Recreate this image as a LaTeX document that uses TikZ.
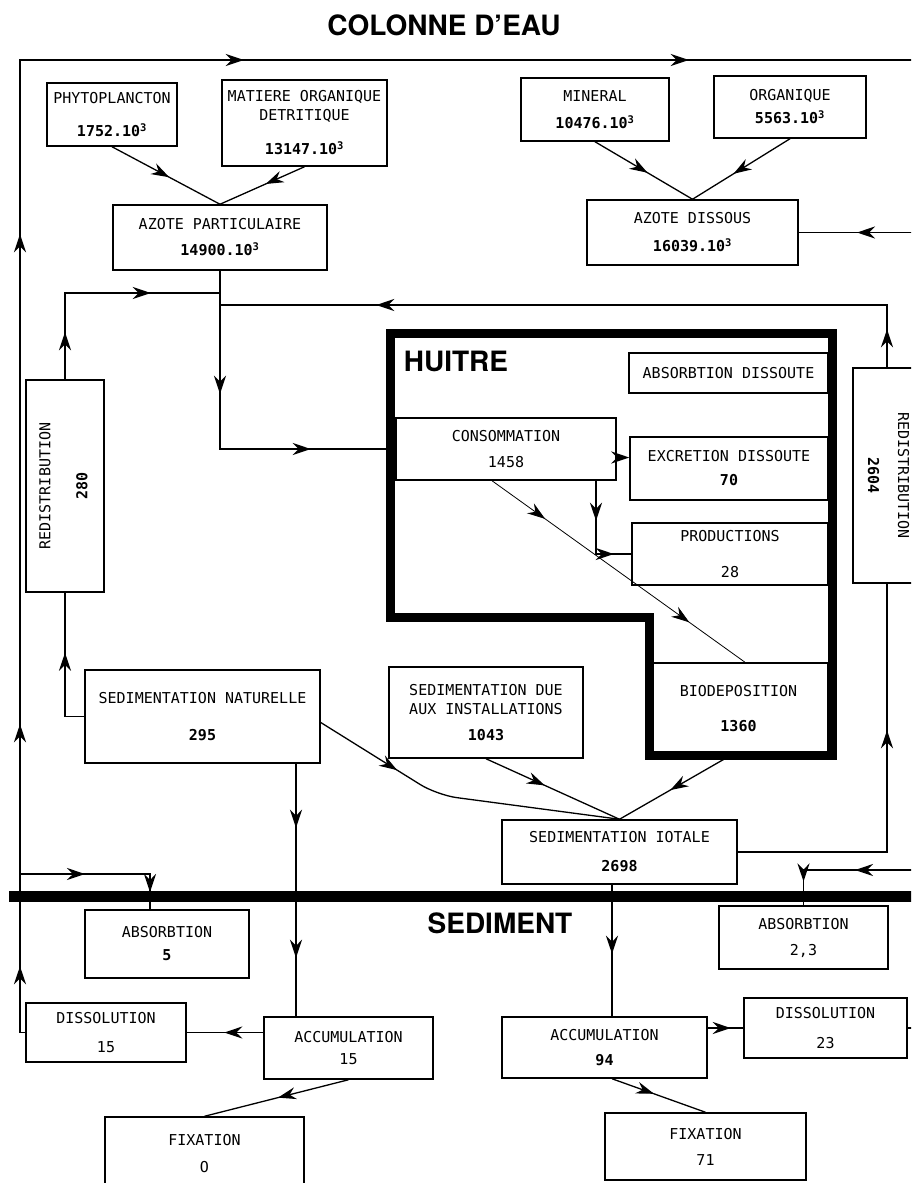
\documentclass[tikz,border=0pt]{standalone}
\usepackage{fontspec}
\usepackage{graphicx}
\setmonofont{DejaVu Sans Mono}
\setsansfont{TeX Gyre Heros}
\usetikzlibrary{arrows.meta,decorations.markings}
\tikzset{
  >={Stealth[length=18pt,width=12pt,inset=6pt]},
  compart/.style={draw,line width=1.5pt,inner sep=0pt,align=center,font=\ttfamily\fontsize{15}{19}\selectfont},
  flow/.style={postaction={decorate,decoration={markings,mark=at position #1 with {\arrow{>}}}}},
  flow/.default=0.5,
  title/.style={font=\sffamily\bfseries\fontsize{28}{30}\selectfont},
}
\begin{document}
\begin{tikzpicture}[x=1pt,y=-1pt,line width=1.3pt]
\useasboundingbox (0,0) rectangle (911,1183);
\clip (0,0) rectangle (911,1183);
\node[title] (colonne) at (444,25) {COLONNE D’EAU};
\node[title] (huitre) at (456,361) {HUITRE};
\node[title] (sediment) at (500,923) {SEDIMENT};
\node[compart,minimum width=130pt,minimum height=63pt] (phyto) at (112,114.5) {PHYTOPLANCTON\\[14pt]\bfseries 1752.10\textsuperscript{3}};
\node[compart,minimum width=165pt,minimum height=86pt] (detritus) at (304.5,123) {MATIERE ORGANIQUE\\DETRITIQUE\\[15pt]\bfseries 13147.10\textsuperscript{3}};
\node[compart,minimum width=214pt,minimum height=65pt] (azpart) at (220,237.5) {AZOTE PARTICULAIRE\\[7pt]\bfseries 14900.10\textsuperscript{3}};
\node[compart,minimum width=148pt,minimum height=63pt] (mineral) at (595,109.5) {MINERAL\\[8pt]\bfseries 10476.10\textsuperscript{3}};
\node[compart,minimum width=152pt,minimum height=62pt] (organ) at (790,107) {ORGANIQUE\\[4pt]\bfseries 5563.10\textsuperscript{3}};
\node[compart,minimum width=211pt,minimum height=65pt] (azdiss) at (692.5,232.5) {AZOTE DISSOUS\\[9pt]\bfseries 16039.10\textsuperscript{3}};
\node[compart,minimum width=199pt,minimum height=40pt] (absdiss) at (728.5,373) {ABSORBTION DISSOUTE};
\node[compart,minimum width=220pt,minimum height=62pt] (conso) at (506,449) {CONSOMMATION\\[7pt]1458};
\node[compart,minimum width=198pt,minimum height=63pt] (excr) at (729,468.5) {EXCRETION DISSOUTE\\[5pt]\bfseries 70};
\node[compart,minimum width=196pt,minimum height=62pt] (prod) at (730,554) {PRODUCTIONS\\[17pt]28};
\node[compart,minimum width=179pt,minimum height=92pt] (biodep) at (738.5,709) {BIODEPOSITION\\[16pt]\bfseries 1360};
\node[compart,minimum width=78pt,minimum height=212pt] (redistA) at (65,486) {\rotatebox{90}{\begin{tabular}{@{}c@{}}REDISTRIBUTION\\[18pt]\bfseries 280\end{tabular}}};
\node[compart,minimum width=68pt,minimum height=215pt] (redistB) at (887,475.5) {\rotatebox{-90}{\begin{tabular}{@{}c@{}}REDISTRIBUTION\\[11pt]\bfseries 2604\end{tabular}}};
\node[compart,minimum width=235pt,minimum height=93pt] (sednat) at (202.5,716.5) {SEDIMENTATION NATURELLE\\[18pt]\bfseries 295};
\node[compart,minimum width=194pt,minimum height=91pt] (seddue) at (486,712.5) {SEDIMENTATION DUE\\AUX INSTALLATIONS\\[7pt]\bfseries 1043};
\node[compart,minimum width=235pt,minimum height=64pt] (sedtot) at (619.5,852) {SEDIMENTATION IOTALE\\[10pt]\bfseries 2698};
\node[compart,minimum width=164pt,minimum height=68pt] (absA) at (167,944) {ABSORBTION\\[4pt]\bfseries 5};
\node[compart,minimum width=160pt,minimum height=59pt] (dissA) at (106,1032.5) {DISSOLUTION\\[10pt]15};
\node[compart,minimum width=169pt,minimum height=62pt] (accA) at (348.5,1048) {ACCUMULATION\\[3pt]15};
\node[compart,minimum width=199pt,minimum height=73pt] (fixA) at (204.5,1153.5) {FIXATION\\[8pt]O};
\node[compart,minimum width=205pt,minimum height=61pt] (accB) at (604.5,1047.5) {ACCUMULATION\\[6pt]\bfseries 94};
\node[compart,minimum width=163pt,minimum height=60pt] (dissB) at (825.5,1028) {DISSOLUTION\\[11pt]23};
\node[compart,minimum width=169pt,minimum height=63pt] (absB) at (803.5,937.5) {ABSORBTION\\[7pt]2,3};
\node[compart,minimum width=201pt,minimum height=67pt] (fixB) at (705.5,1146.5) {FIXATION\\[7pt]71};
\draw[line width=9pt] (390,333) -- (832,333) -- (832,755) -- (649,755) -- (649,617) -- (390,617) -- cycle;
\draw[line width=11pt] (9,896) -- (925,896);
\coordinate (topL) at (20,60);
\coordinate (topR) at (925,60);
\coordinate (railR) at (925,0);
\coordinate (toAbsA) at (20,874);
\coordinate (toAbsB) at (925,870);
\coordinate (jA) at (220,293);
\coordinate (jB) at (220,305);
\coordinate (cp) at (596,553);
\coordinate (ex) at ([yshift=11pt]excr.west);
\coordinate (sA) at (296,0);
\coordinate (sB) at (612,0);
\coordinate (bend) at (437,795);
\draw[flow=71.5pt,flow=313.5pt,flow=803.5pt,flow=1201.5pt,flow=1646.5pt] (dissA.west) -| (topL) -- (topR);
\draw[flow=65pt,flow=148pt] (toAbsA) -| ([xshift=-17pt]absA.north);
\draw[flow=0.53] (phyto.south) -- (azpart.north);
\draw[flow=0.46] (detritus.south) -- (azpart.north);
\draw[flow=0.54] (mineral.south) -- (azdiss.north);
\draw[flow=0.58] (organ.south) -- (azdiss.north);
\draw[flow=68pt] (azdiss.east -| railR) -- (azdiss.east);
\draw[flow=123pt,flow=269pt] (azpart.south) |- (conso.west);
\draw[flow=47pt,flow=172pt] (redistA.north) |- (jA);
\draw[flow=38pt,flow=573pt] (redistB.north) |- (jB);
\draw[flow=83pt] (sednat.west) -| (redistA.south);
\draw[->] (ex -| conso.east) -- (ex);
\draw[flow=40pt,flow=91pt] (cp |- conso.south) |- (prod.west);
\draw[line width=0.8pt,flow=0.21,flow=0.78] ([xshift=-14pt]conso.south) -- ([xshift=6.5pt]biodep.north);
\draw[flow=64pt,flow=194pt] (sA |- sednat.south) -- (sA |- accA.north);
\draw[rounded corners=20pt,flow=90pt] ([yshift=-6pt]sednat.east) -- (bend) -- (sedtot.north);
\draw[flow=0.44] (seddue.south) -- (sedtot.north);
\draw[flow=0.54] ([xshift=-8.5pt]biodep.south) -- (sedtot.north);
\draw[flow=271pt] (sedtot.east) -| (redistB.south);
\draw[flow=69pt] (sB |- sedtot.south) -- (sB |- accB.north);
\draw[flow=39pt] (dissA.east -| accA.west) -- (dissA.east);
\draw[flow=0.49] (accA.south) -- (fixA.north);
\draw[flow=23pt] (dissB.west -| accB.east) -- (dissB.west);
\draw[flow=0.45] ([xshift=7.5pt]accB.south) -- (fixB.north);
\draw (dissB.east) -- (dissB.east -| railR);
\draw[flow=70pt,flow=133pt] (toAbsB) -| (absB.north);
\end{tikzpicture}
\end{document}
